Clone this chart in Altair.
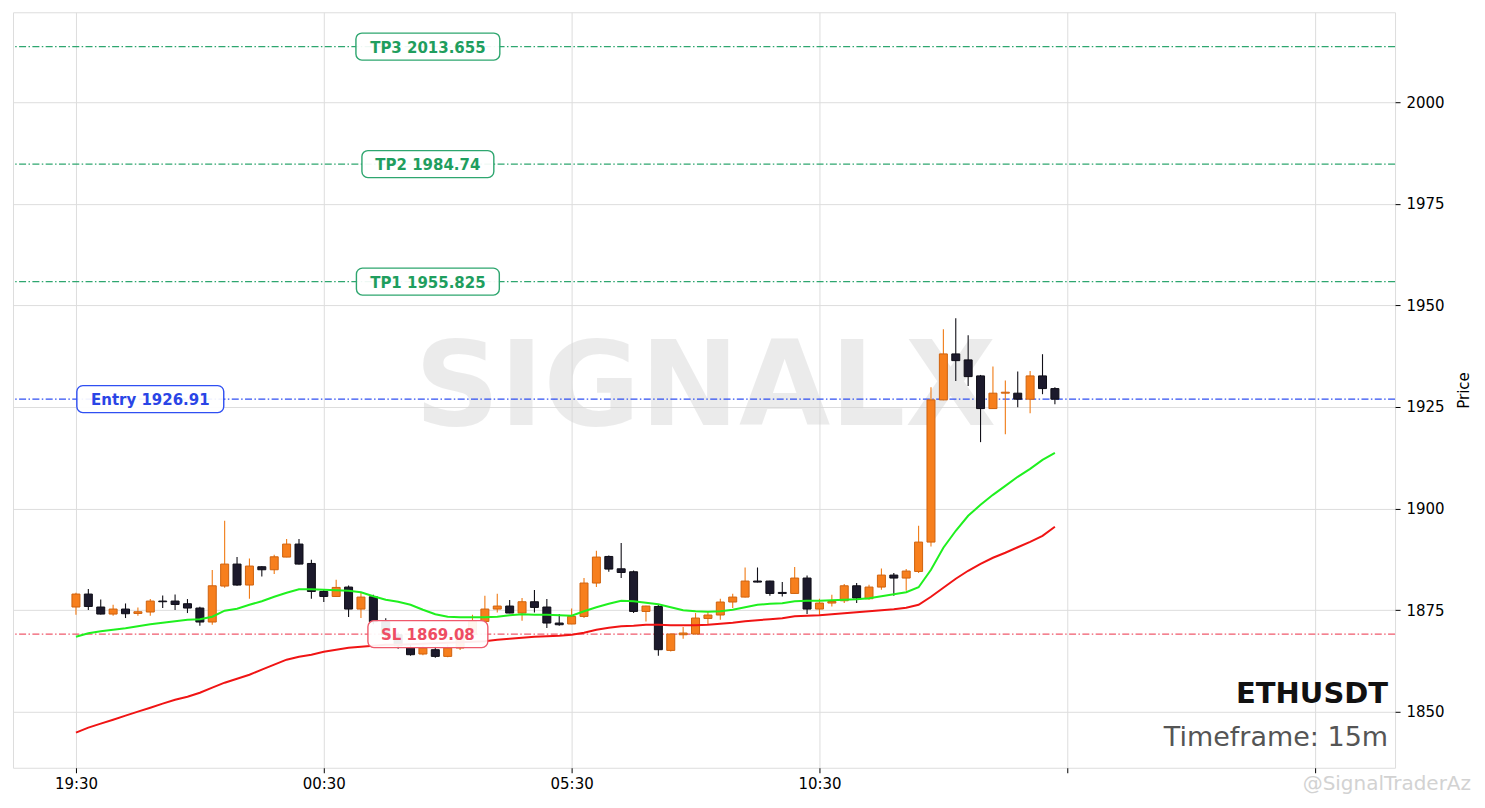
import altair as alt
import pandas as pd

# ---------------- data ----------------
OPEN = [1875.75, 1878.94, 1875.75, 1874.02, 1875.25, 1874.17, 1874.52, 1877.22, 1877.22, 1876.56,
        1875.50, 1872.06, 1880.91, 1886.32, 1881.16, 1885.66, 1884.92, 1888.04, 1891.24, 1886.47,
        1879.58, 1878.35, 1880.66, 1875.25, 1878.28, 1872.13, 1868.93, 1865.74, 1864.19, 1865.25,
        1863.60, 1865.66, 1869.00, 1872.20, 1875.25, 1875.99, 1874.27, 1877.05, 1875.75, 1871.81,
        1871.57, 1873.43, 1881.65, 1888.19, 1885.16, 1884.43, 1874.66, 1875.89, 1865.07, 1868.93,
        1869.11, 1872.94, 1873.78, 1876.98, 1878.20, 1882.14, 1882.14, 1879.34, 1879.09, 1882.88,
        1875.25, 1876.73, 1877.29, 1880.98, 1877.79, 1880.66, 1883.61, 1882.88, 1884.50, 1891.73,
        1926.72, 1938.03, 1936.56, 1932.62, 1924.58, 1928.37, 1928.37, 1926.89, 1932.62, 1929.50]
HIGH = [1879.26, 1880.17, 1877.61, 1876.31, 1876.63, 1875.65, 1877.71, 1878.60, 1878.84, 1877.71,
        1875.82, 1884.84, 1896.97, 1888.04, 1887.70, 1885.80, 1888.61, 1892.47, 1892.47, 1887.38,
        1880.00, 1882.46, 1881.06, 1879.19, 1878.77, 1873.00, 1869.50, 1866.50, 1866.20, 1866.00,
        1866.50, 1869.80, 1873.85, 1878.52, 1879.02, 1877.47, 1877.96, 1879.93, 1877.71, 1874.02,
        1875.40, 1882.88, 1889.59, 1888.43, 1891.48, 1884.75, 1876.06, 1876.31, 1869.20, 1870.83,
        1874.27, 1874.66, 1877.79, 1879.02, 1885.48, 1885.48, 1882.20, 1881.89, 1885.58, 1883.52,
        1877.79, 1878.77, 1881.40, 1881.65, 1881.23, 1885.24, 1884.11, 1885.09, 1895.74, 1929.84,
        1944.11, 1946.81, 1942.63, 1932.86, 1934.91, 1931.47, 1933.68, 1933.85, 1937.96, 1929.84]
LOW = [1873.85, 1875.01, 1873.90, 1873.61, 1873.04, 1873.61, 1873.61, 1875.50, 1875.01, 1874.27,
       1871.15, 1871.39, 1880.49, 1881.00, 1877.79, 1883.27, 1883.86, 1888.00, 1886.20, 1877.79,
       1876.98, 1878.30, 1873.29, 1873.04, 1871.50, 1868.00, 1865.50, 1863.77, 1863.90, 1863.28,
       1863.40, 1865.20, 1868.50, 1871.80, 1874.42, 1874.20, 1872.38, 1874.42, 1870.58, 1871.15,
       1871.50, 1873.04, 1880.66, 1884.43, 1882.88, 1874.27, 1872.20, 1863.77, 1864.83, 1867.95,
       1869.00, 1871.57, 1872.62, 1875.50, 1878.10, 1881.80, 1878.52, 1878.35, 1879.00, 1874.02,
       1873.85, 1875.89, 1876.73, 1876.73, 1877.54, 1880.00, 1878.52, 1879.75, 1884.11, 1890.65,
       1926.60, 1931.39, 1930.16, 1916.32, 1924.50, 1918.29, 1924.93, 1923.45, 1928.12, 1925.66]
CLOSE = [1878.94, 1875.89, 1874.02, 1875.25, 1874.10, 1874.59, 1877.22, 1877.05, 1876.38, 1875.50,
         1872.06, 1880.98, 1886.32, 1881.16, 1885.83, 1884.92, 1888.11, 1891.24, 1886.32, 1879.58,
         1878.35, 1880.57, 1875.25, 1878.20, 1872.13, 1868.93, 1866.23, 1864.02, 1865.66, 1863.60,
         1865.66, 1869.00, 1872.20, 1875.25, 1875.99, 1874.27, 1877.05, 1875.65, 1871.81, 1871.39,
         1873.43, 1881.65, 1888.04, 1885.09, 1884.25, 1874.66, 1875.99, 1865.25, 1869.11, 1869.35,
         1873.04, 1873.78, 1876.98, 1878.20, 1882.14, 1881.89, 1879.09, 1879.09, 1882.88, 1875.25,
         1876.73, 1877.12, 1880.98, 1877.96, 1880.66, 1883.61, 1882.88, 1884.60, 1891.73, 1926.72,
         1938.03, 1936.38, 1932.45, 1924.58, 1928.37, 1928.61, 1926.89, 1932.62, 1929.50, 1926.89]
EMA_FAST = [1868.44, 1869.30, 1869.79, 1870.16, 1870.53, 1871.02, 1871.52, 1871.89, 1872.25, 1872.62,
            1872.75, 1873.36, 1874.84, 1875.33, 1876.31, 1877.17, 1878.28, 1879.26, 1880.12, 1880.12,
            1880.00, 1879.88, 1879.75, 1879.39, 1878.40, 1877.54, 1877.05, 1876.31, 1875.08, 1873.98,
            1873.36, 1873.24, 1873.24, 1873.24, 1873.36, 1873.73, 1873.98, 1873.85, 1873.85, 1873.73,
            1873.61, 1874.71, 1875.70, 1876.56, 1877.29, 1877.17, 1876.80, 1876.43, 1875.70, 1874.96,
            1874.71, 1874.59, 1874.71, 1875.08, 1875.70, 1876.31, 1876.56, 1876.68, 1877.17, 1877.29,
            1877.29, 1877.42, 1877.54, 1877.66, 1877.91, 1878.40, 1878.89, 1879.39, 1880.61, 1884.92,
            1890.33, 1894.51, 1898.20, 1900.90, 1903.36, 1905.57, 1907.79, 1909.75, 1911.97, 1913.69]
EMA_SLOW = [1844.84, 1846.07, 1847.05, 1848.03, 1849.02, 1850.00, 1850.98, 1851.97, 1852.95, 1853.69,
            1854.67, 1855.90, 1857.13, 1858.11, 1859.10, 1860.33, 1861.56, 1862.79, 1863.52, 1864.02,
            1864.75, 1865.25, 1865.74, 1865.98, 1866.23, 1866.48, 1866.48, 1866.60, 1866.72, 1866.84,
            1866.97, 1867.09, 1867.21, 1867.34, 1867.70, 1867.95, 1868.20, 1868.44, 1868.56, 1868.69,
            1868.93, 1869.43, 1870.16, 1870.66, 1871.02, 1871.15, 1871.39, 1871.39, 1871.27, 1871.27,
            1871.27, 1871.39, 1871.64, 1871.89, 1872.25, 1872.50, 1872.75, 1872.99, 1873.48, 1873.61,
            1873.73, 1873.98, 1874.22, 1874.47, 1874.71, 1874.96, 1875.20, 1875.57, 1876.31, 1878.28,
            1880.49, 1882.70, 1884.67, 1886.39, 1887.87, 1889.10, 1890.45, 1891.80, 1893.28, 1895.49]

X_TICK_VALUES = [0, 20, 40, 60, 80, 100]
X_TICK_LABELS = ["19:30", "00:30", "05:30", "10:30", "", ""]
Y_TICK_VALUES = [1850, 1875, 1900, 1925, 1950, 1975, 2000]

LEVEL_NAMES = ["TP3", "TP2", "TP1", "Entry", "SL"]
LEVEL_PRICES = [2013.655, 1984.74, 1955.825, 1926.91, 1869.08]
LEVEL_TEXTS = ["TP3 2013.655", "TP2 1984.74", "TP1 1955.825", "Entry 1926.91", "SL 1869.08"]
LEVEL_LABEL_X = [28.4, 28.4, 28.4, 6.0, 28.4]

SYMBOL = "ETHUSDT"
TIMEFRAME = "Timeframe: 15m"
WATERMARK = "SIGNALX"

# ---------------- styling ----------------
W, H = 1383, 756
X_DOMAIN = [-5.08, 106.45]
Y_DOMAIN = [1836.2, 2022.1]
LEVEL_COLORS = ["#2ea66f", "#2ea66f", "#2ea66f", "#2f4ff2", "#ef5a6c"]
LEVEL_TEXT_COLORS = ["#1f9e5e", "#1f9e5e", "#1f9e5e", "#2a45e6", "#ee4d63"]
BOX_W = [144, 132, 143, 147, 120]
FONT = "DejaVu Sans"
UP_FILL, UP_EDGE, UP_WICK = "#f77f1d", "#cf620e", "#f07a14"
DN_FILL, DN_EDGE, DN_WICK = "#1c1a2c", "#0e0d16", "#111018"

candles = pd.DataFrame({
    "idx": list(range(len(OPEN))),
    "open": OPEN, "high": HIGH, "low": LOW, "close": CLOSE,
    "ema_fast": EMA_FAST, "ema_slow": EMA_SLOW,
})
candles["dir"] = ["up" if c >= o else "down" for o, c in zip(OPEN, CLOSE)]

xs = alt.Scale(domain=X_DOMAIN, nice=False, zero=False, padding=0)
ys = alt.Scale(domain=Y_DOMAIN, nice=False, zero=False, padding=0)

label_expr = " : ".join(
    [f"datum.value == {v} ? '{l}'" for v, l in zip(X_TICK_VALUES, X_TICK_LABELS)]
) + " : ''"

x_axis = alt.Axis(values=X_TICK_VALUES, labelExpr=label_expr, title=None, grid=True,
                  domain=False, tickColor="#000000", tickSize=5, labelPadding=4,
                  labelFont=FONT, labelFontSize=15, labelColor="#000000")
y_axis = alt.Axis(orient="right", values=Y_TICK_VALUES, format="d", title="Price", grid=True,
                  domain=False, tickColor="#000000", tickSize=5, labelPadding=6,
                  labelFont=FONT, labelFontSize=15, labelColor="#000000",
                  titleFont=FONT, titleFontSize=15, titleFontWeight="normal",
                  titleAngle=270, titleBaseline="top", titlePadding=12, titleColor="#000000")

base = alt.Chart(candles)

# watermark
wm = alt.Chart(pd.DataFrame({"t": [WATERMARK], "x": [50.8], "y": [1920.6]})).mark_text(
    font=FONT, fontWeight="bold", fontSize=118, color="#d5d5d5", opacity=0.45,
    align="center", baseline="alphabetic"
).encode(x=alt.X("x:Q", scale=xs, axis=x_axis), y=alt.Y("y:Q", scale=ys, axis=y_axis), text="t:N")

levels = pd.DataFrame({"name": LEVEL_NAMES, "price": LEVEL_PRICES,
                       "text": LEVEL_TEXTS, "lx": LEVEL_LABEL_X})

level_rules = []
for i, name in enumerate(LEVEL_NAMES):
    level_rules.append(
        alt.Chart(levels).transform_filter(alt.datum.name == name)
        .mark_rule(strokeDash=[7, 2.4, 1.5, 2.4], strokeWidth=1.4, color=LEVEL_COLORS[i])
        .encode(y=alt.Y("price:Q", scale=ys))
    )

candle_layers = []
for d, wick_c in [("up", UP_WICK), ("down", DN_WICK)]:
    sub = base.transform_filter(alt.datum.dir == d)
    candle_layers.append(
        sub.mark_rule(strokeWidth=1.1, color=wick_c).encode(
            x=alt.X("idx:Q", scale=xs), y=alt.Y("low:Q", scale=ys), y2="high:Q"))
for d, fill_c, edge_c in [("up", UP_FILL, UP_EDGE), ("down", DN_FILL, DN_EDGE)]:
    sub = base.transform_filter(alt.datum.dir == d)
    candle_layers.append(
        sub.mark_bar(size=8, strokeWidth=1, fill=fill_c, stroke=edge_c).encode(
            x=alt.X("idx:Q", scale=xs), y=alt.Y("open:Q", scale=ys), y2="close:Q"))

ema_fast = base.mark_line(color="#1ff01f", strokeWidth=2).encode(
    x=alt.X("idx:Q", scale=xs), y=alt.Y("ema_fast:Q", scale=ys))
ema_slow = base.mark_line(color="#f01414", strokeWidth=2).encode(
    x=alt.X("idx:Q", scale=xs), y=alt.Y("ema_slow:Q", scale=ys))

label_layers = []
for i, name in enumerate(LEVEL_NAMES):
    one = alt.Chart(levels).transform_filter(alt.datum.name == name)
    half = BOX_W[i] / 2
    box = one.mark_rect(fill="#ffffff", fillOpacity=0.92, stroke=LEVEL_COLORS[i], strokeWidth=1.4,
                        cornerRadius=6, xOffset=-half, x2Offset=half, yOffset=-13.5, y2Offset=13.5).encode(
        x=alt.X("lx:Q", scale=xs), x2="lx:Q", y=alt.Y("price:Q", scale=ys), y2="price:Q")
    txt = one.mark_text(font=FONT, fontWeight="bold", fontSize=15, color=LEVEL_TEXT_COLORS[i],
                        align="center", baseline="middle", dy=1).encode(
        x=alt.X("lx:Q", scale=xs), y=alt.Y("price:Q", scale=ys), text="text:N")
    label_layers += [box, txt]

sym = alt.Chart(pd.DataFrame({"t": [SYMBOL]})).mark_text(
    font=FONT, fontWeight="bold", fontSize=29, color="#111111", align="right", baseline="alphabetic"
).encode(x=alt.value(W - 7), y=alt.value(691), text="t:N")
tf = alt.Chart(pd.DataFrame({"t": [TIMEFRAME]})).mark_text(
    font=FONT, fontSize=27, color="#555555", align="right", baseline="alphabetic"
).encode(x=alt.value(W - 7), y=alt.value(734), text="t:N")
credit = alt.Chart(pd.DataFrame({"t": ["@SignalTraderAz"]})).mark_text(
    font=FONT, fontSize=20, color="#c8c8c8", opacity=0.8, align="right", baseline="alphabetic"
).encode(x=alt.value(W + 76), y=alt.value(H + 22), text="t:N")

chart = alt.layer(
    wm, *level_rules, *candle_layers, ema_fast, ema_slow, *label_layers, sym, tf, credit
).properties(
    width=W, height=H, padding={"left": 4, "top": 4, "right": 5, "bottom": 5}
).configure_view(
    stroke="#cccccc", strokeWidth=1
).configure_axis(
    gridColor="#e6e6e6", gridWidth=1
).configure(background="#ffffff")

chart.save("out.html", embed_options={"renderer": "svg", "actions": False})
